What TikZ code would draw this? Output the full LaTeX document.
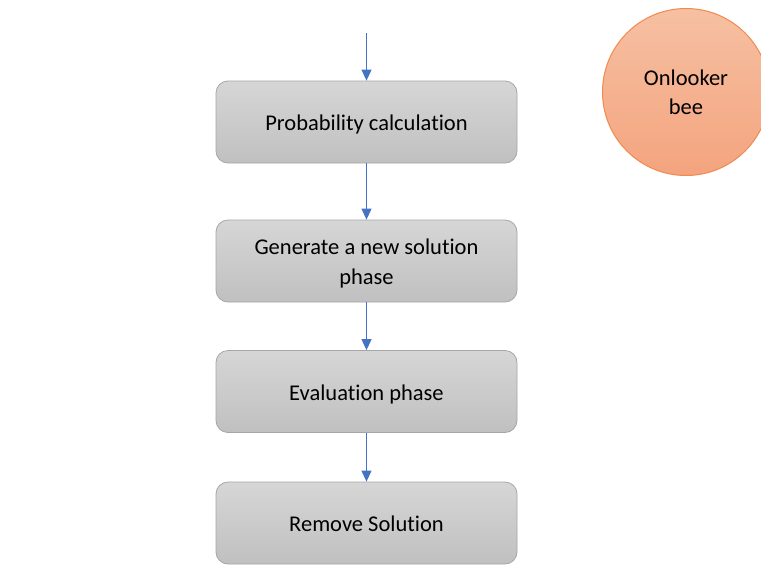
\documentclass[tikz,border=0pt]{standalone}
\usepackage{fontspec}
\setmainfont{Carlito}[Ligatures=NoCommon]
\usetikzlibrary{arrows.meta}
\definecolor{boxborder}{HTML}{A6A6A6}
\definecolor{boxtop}{HTML}{D6D6D6}
\definecolor{boxbot}{HTML}{C0C0C0}
\definecolor{circtop}{HTML}{F6C0A2}
\definecolor{circbot}{HTML}{F4A47E}
\definecolor{circborder}{HTML}{F08A4E}
\definecolor{arrowblue}{HTML}{4472C4}
\newcommand{\lowered}[2]{\raisebox{-#1pt}[\height][\depth]{\begin{tabular}{@{}c@{}}#2\end{tabular}}}
\tikzset{
  stepbox/.style={draw=boxborder, line width=0.8pt, rounded corners=12pt,
    top color=boxtop, bottom color=boxbot, minimum width=301pt, minimum height=82pt,
    align=center, font=\fontsize{22.5}{30}\selectfont, text=black, inner sep=0pt},
  beecircle/.style={circle, draw=circborder, line width=1pt, top color=circtop, bottom color=circbot,
    minimum size=167pt, inner sep=0pt, align=center, font=\fontsize{22.5}{29}\selectfont},
  flow/.style={draw=arrowblue, line width=0.9pt, -{Triangle[width=10pt,length=11pt]}, arrowblue}
}
\begin{document}
\begin{tikzpicture}[x=1pt,y=-1pt]
\useasboundingbox (0,0) rectangle (761,566);
\clip (0,0) rectangle (761,566);
\fill[white] (0,0) rectangle (761,566);
\node[stepbox] (b1) at (366.5,122) {\lowered{2}{Probability calculation}};
\node[stepbox] (b2) at (366.5,261) {\lowered{2}{Generate a new solution\\phase}};
\node[stepbox] (b3) at (366.5,391.5) {\lowered{3}{Evaluation phase}};
\node[stepbox] (b4) at (366.5,523) {\lowered{2}{Remove Solution}};
\node[beecircle] (bee) at (686,92) {\lowered{2}{Onlooker\\bee}};
\coordinate (start) at (366.5,33);
\draw[flow] (start) -- (b1.north);
\draw[flow] (b1.south) -- (b2.north);
\draw[flow] (b2.south) -- (b3.north);
\draw[flow] (b3.south) -- (b4.north);
\end{tikzpicture}
\end{document}
